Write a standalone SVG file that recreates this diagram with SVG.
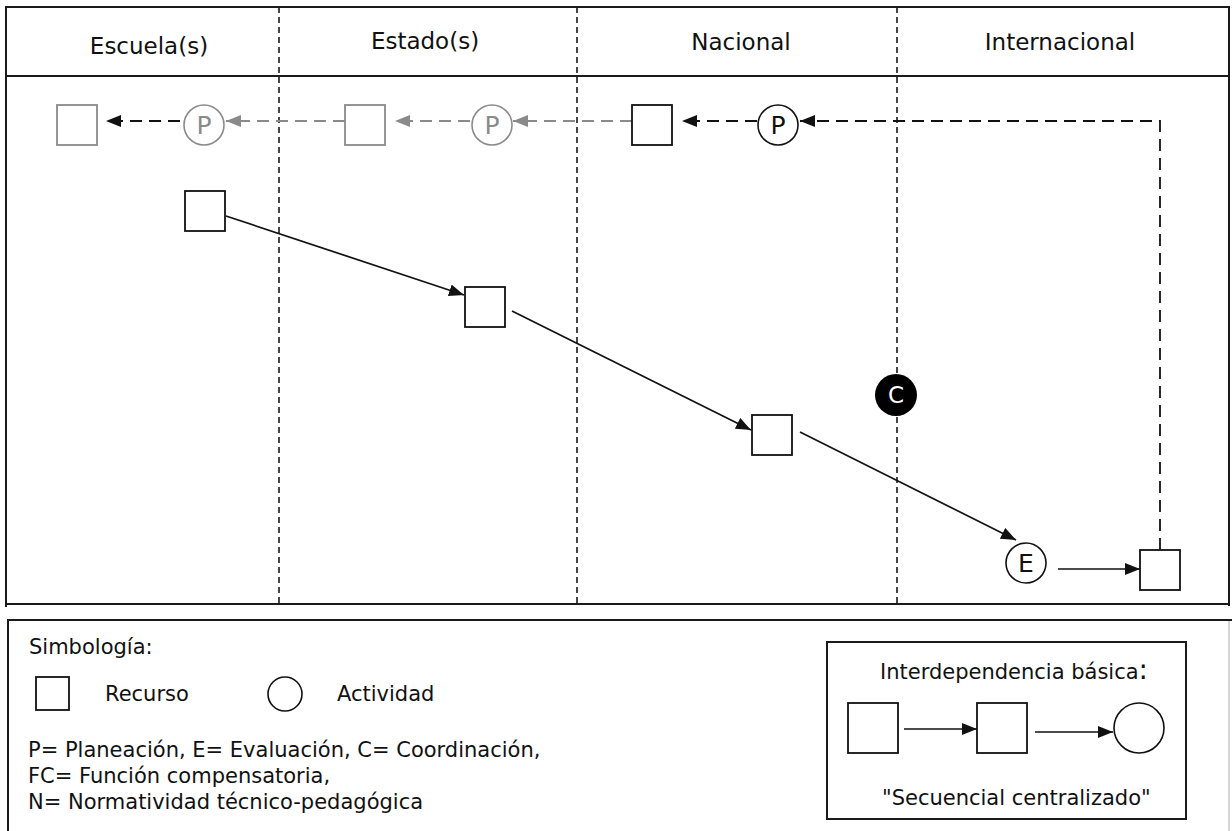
<svg xmlns="http://www.w3.org/2000/svg" width="1232" height="831" viewBox="0 0 1232 831">
<style>
.frame{fill:none;stroke:#1a1a1a;stroke-width:2}
.div{stroke:#1a1a1a;stroke-width:1.6;stroke-dasharray:6 4;fill:none}
.hdr{font-family:"DejaVu Sans",Verdana,sans-serif;font-size:23px;fill:#111;text-anchor:middle}
.sq{fill:#fff;stroke:#111;stroke-width:1.8}
.sqg{fill:#fff;stroke:#8a8a8a;stroke-width:1.8}
.ci{fill:#fff;stroke:#111;stroke-width:1.6}
.cig{fill:#fff;stroke:#8a8a8a;stroke-width:1.6}
.lt{font-family:"DejaVu Sans",Verdana,sans-serif;font-size:25px;text-anchor:middle;fill:#111}
.ltg{font-family:"DejaVu Sans",Verdana,sans-serif;font-size:25px;text-anchor:middle;fill:#8a8a8a}
.ar{stroke:#111;stroke-width:1.7;fill:none}
.dk{stroke:#111;stroke-width:1.8;fill:none;stroke-dasharray:12 7}
.dg{stroke:#8a8a8a;stroke-width:1.8;fill:none;stroke-dasharray:12 7}
.tx{font-family:"DejaVu Sans",Verdana,sans-serif;font-size:21px;fill:#111}
</style>
<defs>
<marker id="ah" viewBox="0 0 15 12" refX="15" refY="6" markerWidth="15" markerHeight="12" orient="auto" markerUnits="userSpaceOnUse"><path d="M0,0 L15,6 L0,12 z" fill="#111"/></marker>
<marker id="ahg" viewBox="0 0 15 12" refX="15" refY="6" markerWidth="15" markerHeight="12" orient="auto" markerUnits="userSpaceOnUse"><path d="M0,0 L15,6 L0,12 z" fill="#8a8a8a"/></marker>
</defs>
<rect width="1232" height="831" fill="#fff"/>
<g id="frame">
<line x1="6" y1="7" x2="1229" y2="7" class="frame"/>
<line x1="6" y1="6" x2="6" y2="607" class="frame"/>
<line x1="1229" y1="6" x2="1229" y2="606" class="frame"/>
<line x1="6" y1="76" x2="1229" y2="76" class="frame"/>
<line x1="6" y1="604" x2="1229" y2="604" class="frame"/>
<line x1="279" y1="7" x2="279" y2="604" class="div"/>
<line x1="577" y1="7" x2="577" y2="604" class="div"/>
<line x1="897" y1="7" x2="897" y2="604" class="div"/>
</g>
<g id="headers">
<text x="149" y="54" class="hdr">Escuela(s)</text>
<text x="425" y="49" class="hdr">Estado(s)</text>
<text x="741" y="50" class="hdr">Nacional</text>
<text x="1060" y="50" class="hdr">Internacional</text>
</g>
<g id="connectors">
<line x1="180" y1="121" x2="106" y2="121" class="dk" marker-end="url(#ah)"/>
<line x1="345" y1="121" x2="226" y2="121" class="dg" marker-end="url(#ahg)"/>
<line x1="470" y1="121" x2="395" y2="121" class="dg" marker-end="url(#ahg)"/>
<line x1="632" y1="121" x2="513" y2="121" class="dg" marker-end="url(#ahg)"/>
<line x1="757" y1="121" x2="682" y2="121" class="dk" marker-end="url(#ah)"/>
<path d="M1160,550 V121 H800" class="dk" marker-end="url(#ah)"/>
<line x1="226" y1="216" x2="464" y2="295" class="ar" marker-end="url(#ah)"/>
<line x1="512" y1="311" x2="751" y2="430" class="ar" marker-end="url(#ah)"/>
<line x1="800" y1="432" x2="1016" y2="540" class="ar" marker-end="url(#ah)"/>
<line x1="1058" y1="569" x2="1140" y2="569" class="ar" marker-end="url(#ah)"/>
</g>
<g id="n-sq-escuela-gray"><rect x="57" y="105" width="40" height="40" class="sqg"/></g>
<g id="n-p-escuela-gray"><circle cx="204" cy="125" r="20" class="cig"/><text x="204" y="134" class="ltg">P</text></g>
<g id="n-sq-estado-gray"><rect x="345" y="105" width="40" height="40" class="sqg"/></g>
<g id="n-p-estado-gray"><circle cx="492" cy="125" r="20" class="cig"/><text x="492" y="134" class="ltg">P</text></g>
<g id="n-sq-nacional"><rect x="632" y="105" width="40" height="40" class="sq"/></g>
<g id="n-p-nacional"><circle cx="778" cy="125" r="20" class="ci"/><text x="778" y="134" class="lt">P</text></g>
<g id="n-sq1"><rect x="185" y="191" width="40" height="40" class="sq"/></g>
<g id="n-sq2"><rect x="465" y="287" width="40" height="40" class="sq"/></g>
<g id="n-sq3"><rect x="752" y="415" width="40" height="40" class="sq"/></g>
<g id="n-c"><circle cx="896" cy="395" r="21" fill="#000"/><text x="896" y="403" class="lt" style="fill:#fff;font-size:23px">C</text></g>
<g id="n-e"><circle cx="1026" cy="563" r="20" class="ci"/><text x="1026" y="572" class="lt">E</text></g>
<g id="n-sq4"><rect x="1140" y="550" width="40" height="40" class="sq"/></g>
<g id="legend">
<path d="M8,840 V620 H1232" class="frame"/>
<line x1="1229" y1="621" x2="1229" y2="831" stroke="#c8c8c8" stroke-width="1.5"/>
<text x="29" y="654" class="tx">Simbología:</text>
<rect x="36" y="677" width="33" height="33" class="sq"/>
<text x="105" y="701" class="tx">Recurso</text>
<circle cx="285" cy="694" r="17" class="ci"/>
<text x="337" y="701" class="tx">Actividad</text>
<text x="28" y="757" class="tx">P= Planeación, E= Evaluación, C= Coordinación,</text>
<text x="28" y="783" class="tx">FC= Función compensatoria,</text>
<text x="28" y="809" class="tx">N= Normatividad técnico-pedagógica</text>
</g>
<g id="interdependencia">
<rect x="827" y="642" width="359" height="177" fill="none" stroke="#1a1a1a" stroke-width="2"/>
<text x="880" y="679" class="tx">Interdependencia básica<tspan style="font-size:28px">:</tspan></text>
<rect x="848" y="703" width="50" height="50" class="sq"/>
<line x1="904" y1="729" x2="977" y2="729" class="ar" marker-end="url(#ah)"/>
<rect x="977" y="703" width="50" height="50" class="sq"/>
<line x1="1035" y1="732" x2="1113" y2="732" class="ar" marker-end="url(#ah)"/>
<circle cx="1139" cy="728" r="25" class="ci"/>
<text x="882" y="805" class="tx">"Secuencial centralizado"</text>
</g>
</svg>
